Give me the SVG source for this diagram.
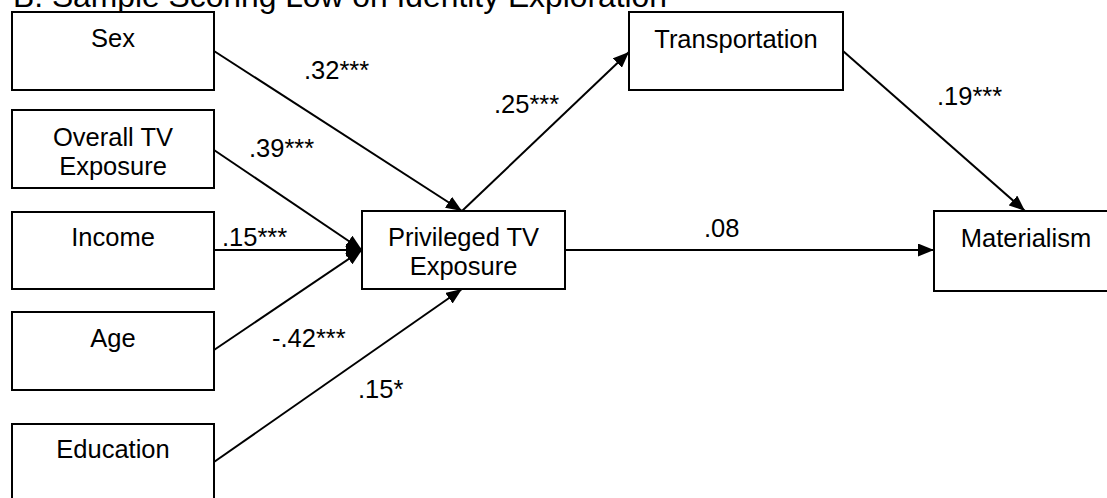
<svg xmlns="http://www.w3.org/2000/svg" width="1107" height="498" viewBox="0 0 1107 498">
<style>
  .box { fill: #fff; stroke: #000; stroke-width: 2; }
  .t { font-family: "Liberation Sans", Arial, sans-serif; font-size: 25.5px; fill: #000; }
  .c { text-anchor: middle; }
  .lbl { font-family: "Liberation Sans", Arial, sans-serif; font-size: 25.5px; fill: #000; }
  .edge { stroke: #000; stroke-width: 2; fill: none; marker-end: url(#arr); }
</style>
<defs>
  <marker id="arr" markerUnits="userSpaceOnUse" markerWidth="17" markerHeight="13" refX="16" refY="6.5" orient="auto">
    <path d="M0,0 L16,6.5 L0,13 z" fill="#000"/>
  </marker>
</defs>
<rect width="1107" height="498" fill="#fff"/>
<text class="t" x="13" y="7" style="font-size:31.8px">B. Sample Scoring Low on Identity Exploration</text>

<g id="connectors">
  <line class="edge" x1="214" y1="51" x2="462" y2="211"/>
  <line class="edge" x1="214" y1="150" x2="362" y2="250"/>
  <line class="edge" x1="214" y1="250" x2="362" y2="250"/>
  <line class="edge" x1="214" y1="350" x2="362" y2="250"/>
  <line class="edge" x1="214" y1="462" x2="462" y2="289"/>
  <line class="edge" x1="462" y1="211" x2="629" y2="52"/>
  <line class="edge" x1="565" y1="250" x2="934" y2="250"/>
  <line class="edge" x1="843" y1="51" x2="1025" y2="211"/>
  <text class="lbl" x="304" y="79">.32***</text>
  <text class="lbl" x="249" y="157">.39***</text>
  <text class="lbl" x="222" y="246">.15***</text>
  <text class="lbl" x="272" y="347">-.42***</text>
  <text class="lbl" x="358" y="398">.15*</text>
  <text class="lbl" x="494" y="113">.25***</text>
  <text class="lbl" x="937" y="105">.19***</text>
  <text class="lbl" x="704" y="237">.08</text>
</g>

<g id="sex">
  <rect class="box" x="12" y="12" width="202" height="78"/>
  <text class="t c" x="113" y="47">Sex</text>
</g>
<g id="overall-tv">
  <rect class="box" x="12" y="110" width="202" height="78"/>
  <text class="t c" x="113" y="146">Overall TV</text>
  <text class="t c" x="113" y="175">Exposure</text>
</g>
<g id="income">
  <rect class="box" x="12" y="212" width="202" height="77"/>
  <text class="t c" x="113" y="246">Income</text>
</g>
<g id="age">
  <rect class="box" x="12" y="312" width="202" height="78"/>
  <text class="t c" x="113" y="347">Age</text>
</g>
<g id="education">
  <rect class="box" x="12" y="424" width="202" height="90"/>
  <text class="t c" x="113" y="458">Education</text>
</g>
<g id="privileged-tv">
  <rect class="box" x="362" y="211" width="203" height="78"/>
  <text class="t c" x="463.5" y="246">Privileged TV</text>
  <text class="t c" x="463.5" y="275">Exposure</text>
</g>
<g id="transportation">
  <rect class="box" x="629" y="12" width="214" height="78"/>
  <text class="t c" x="736" y="48">Transportation</text>
</g>
<g id="materialism">
  <rect class="box" x="934" y="211" width="190" height="80"/>
  <text class="t c" x="1026" y="247">Materialism</text>
</g>
</svg>
